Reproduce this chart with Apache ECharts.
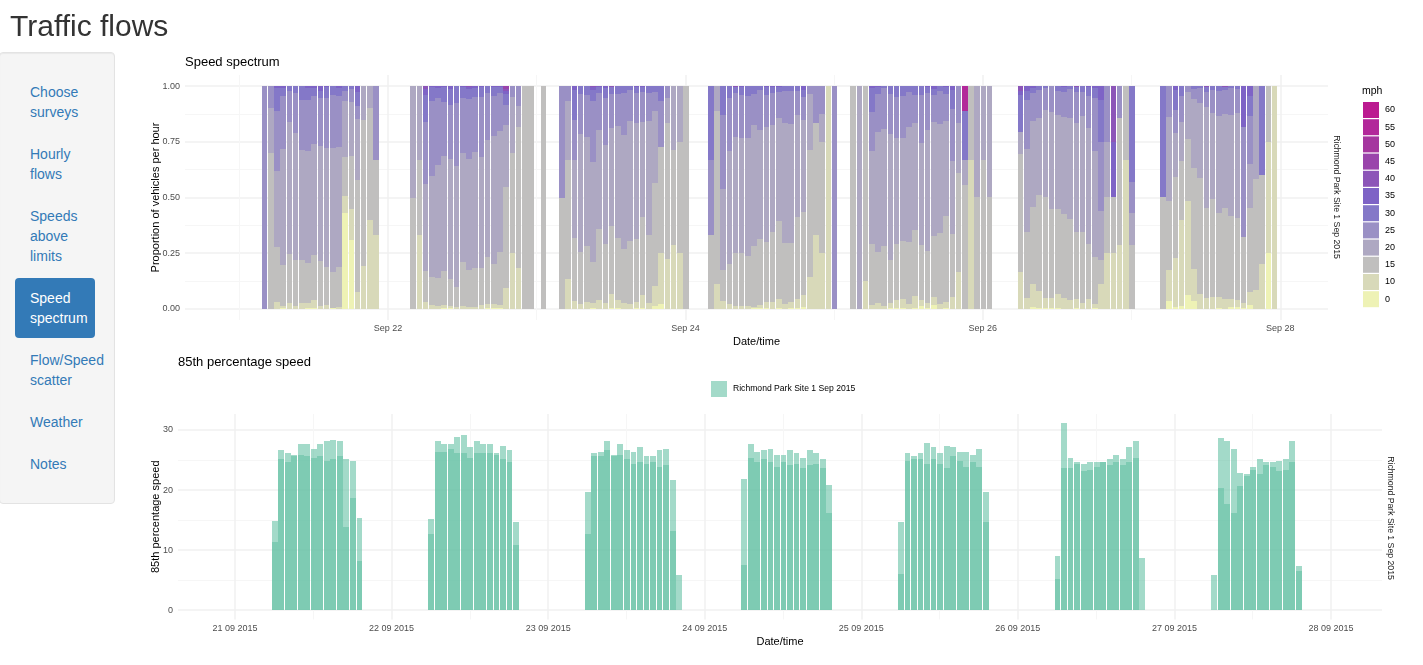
<!DOCTYPE html>
<html>
<head>
<meta charset="utf-8">
<title>Traffic flows</title>
<script src="https://cdn.jsdelivr.net/npm/echarts@6/dist/echarts.min.js"></script>
<style>
  html, body { margin: 0; height: 100%; background: #fff; overflow: hidden; font-family: "Liberation Sans", sans-serif; color: #333; }
  #chart { position: absolute; left: 0; top: 0; width: 100%; height: 100%; }
  h1 { position: absolute; left: 10px; top: 9px; margin: 0; font-size: 30px; line-height: 33px; font-weight: 500; }
  .well { position: absolute; left: -1px; top: 52px; width: 114px; height: 450px; background: #f5f5f5; border: 1px solid #e3e3e3; border-radius: 4px; box-shadow: inset 0 1px 1px rgba(0,0,0,.05); }
  .nav { list-style: none; margin: 0; padding: 0; position: absolute; left: 15px; top: 72px; width: 80px; font-size: 14px; line-height: 20px; }
  .nav li { margin-bottom: 2px; }
  .nav a { display: block; padding: 10px 15px; color: #337ab7; text-decoration: none; border-radius: 4px; white-space: nowrap; }
  .nav li.active a { background: #337ab7; color: #fff; }
</style>
</head>
<body>
<div id="chart"></div>
<h1>Traffic flows</h1>
<div class="well"></div>
<ul class="nav">
  <li><a href="#">Choose<br>surveys</a></li>
  <li><a href="#">Hourly<br>flows</a></li>
  <li><a href="#">Speeds<br>above<br>limits</a></li>
  <li class="active"><a href="#">Speed<br>spectrum</a></li>
  <li><a href="#">Flow/Speed<br>scatter</a></li>
  <li><a href="#">Weather</a></li>
  <li><a href="#">Notes</a></li>
</ul>
<script>
const siteName = "Richmond Park Site 1 Sep 2015";

// speed bands, slowest first
const bands = ["0", "10", "15", "20", "25", "30", "35", "40", "45", "50", "55", "60"];
const bandColors = ["#eef2b5", "#d8d9b9", "#c0bfbe", "#aea8c2", "#9a90c5", "#8478c8", "#7e63c6", "#8c55b8", "#9a44ab", "#a5369f", "#b2289a", "#bb1a90"];

// hours since 21 Sep 00:00, one row in the matching Tops list per hour
const sep21Hours = [4, 5, 6, 7, 8, 9, 10, 11, 12, 13, 14, 15, 16, 17, 18, 19, 20, 21, 22];
const sep22Hours = [28, 29, 30, 31, 32, 33, 34, 35, 36, 37, 38, 39, 40, 41, 42, 43, 44, 45, 46, 47, 49];
const sep23Hours = [52, 53, 54, 55, 56, 57, 58, 59, 60, 61, 62, 63, 64, 65, 66, 67, 68, 69, 70, 71, 72];
const sep24Hours = [76, 77, 78, 79, 80, 81, 82, 83, 84, 85, 86, 87, 88, 89, 90, 91, 92, 93, 94, 95, 96];
const sep25Hours = [99, 100, 101, 102, 103, 104, 105, 106, 107, 108, 109, 110, 111, 112, 113, 114, 115, 116, 117, 118, 119, 120, 121];
const sep26Hours = [126, 127, 128, 129, 130, 131, 132, 133, 134, 135, 136, 137, 138, 139, 140, 141, 142, 143, 144];
const sep27Hours = [149, 150, 151, 152, 153, 154, 155, 156, 157, 158, 159, 160, 161, 162, 163, 164, 165, 166, 167];

// cumulative share at the top of each band, a row stops once the next band reaches 1
const sep21Tops = [
  [0, 0, 0, 0],
  [0, 0, .70, .90],
  [0, .03, .28, .62, .89, .99],
  [.005, .013, .197, .72, .955, .99],
  [0, .027, .247, .84, .977],
  [0, .013, .22, .79, .97],
  [0, .027, .22, .713, .94],
  [.005, .027, .206, .708, .94, .99],
  [.005, .04, .242, .74, .955, .99],
  [0, .013, .215, .73, .946, .98],
  [0, .018, .188, .722, .946, .995],
  [.002, .005, .166, .722, .96],
  [0, .009, .188, .726, .955, .99],
  [.43, .507, .68, .933, .98],
  [.31, .448, .686, .928, .987],
  [0, .076, .578, .852, .91, .973],
  [0, .193, .848],
  [0, .40, .90],
  [0, .332, .668, .668]
];
const sep22Tops = [
  [0, 0, .50],
  [0, .33, .668],
  [0, .03, .17, .56, .84, .96, .987],
  [0, .018, .143, .596, .933, .995],
  [0, .013, .139, .646, .946, .99],
  [.005, .018, .17, .686, .928, .995],
  [.002, .013, .135, .673, .915, .987],
  [0, .009, .099, .641, .924],
  [0, .013, .21, .70, .946, .995],
  [0, .009, .175, .673, .942, .987, .995],
  [0, .009, .184, .704, .95, .99],
  [0, .018, .184, .68, .95, .995],
  [.005, .022, .233, .758, .97],
  [.005, .022, .20, .776, .955, .995],
  [.005, .018, .256, .80, .97, .995],
  [0, .094, .547, .825, .915, .964, .978, .987],
  [0, .25, .70, .95],
  [0, .184, .816, .91],
  [0, 0],
  [0, 0],
  [0, 0]
];
const sep23Tops = [
  [0, 0, .50, .50],
  [0, .135, .668, .933],
  [0, .036, .318, .668, .848, .982],
  [0, .022, .256, .785, .964],
  [0, .03, .283, .771, .96],
  [.005, .027, .21, .66, .933, .982, .995],
  [0, .04, .359, .803, .969, .995],
  [0, .027, .29, .735, .946, .99],
  [.002, .067, .372, .812, .964, .995, .995],
  [.003, .04, .318, .82, .964],
  [0, .027, .27, .78, .969],
  [0, .022, .305, .843, .982],
  [.002, .03, .314, .834, .969, .995],
  [.003, .063, .413, .839, .973, .995],
  [0, .027, .332, .843, .969],
  [.013, .103, .565, .888, .973],
  [.022, .251, .726, .726, .933],
  [0, .224, .834, .946],
  [0, .287, .713],
  [0, .251, .749],
  [0, 0]
];
const sep24Tops = [
  [0, 0, .332, .332, .668],
  [0, .112, .888],
  [0, .036, .175, .538, .87],
  [0, .022, .202, .709, .946],
  [0, .013, .251, .771, .969, .995, .995],
  [0, .013, .251, .767, .96, .995],
  [0, .013, .238, .767, .955],
  [.002, .009, .283, .825, .964],
  [.002, .018, .314, .803, .982],
  [.003, .03, .30, .816, .96, .995],
  [0, .03, .345, .825, .969, .995],
  [.005, .045, .395, .857, .973, .995],
  [0, .022, .296, .834, .978],
  [.003, .03, .296, .83, .978],
  [.005, .045, .413, .87, .978],
  [.008, .063, .435, .848, .95, .982],
  [0, .143, .713, .964],
  [0, .332, .834, .834],
  [0, .251, .749, .875],
  [0],
  [0, 0, 0, 0]
];
const sep25Tops = [
  [0, 0],
  [0, 0, 0],
  [0, .126],
  [0, .018, .291, .709, .883, .991],
  [0, .027, .256, .794, .964, .995],
  [0, .013, .283, .807, .991],
  [.003, .027, .22, .785, .964],
  [.003, .04, .291, .767, .951],
  [.003, .045, .305, .767, .955],
  [0, .022, .30, .816, .973],
  [.006, .058, .354, .834, .96],
  [.012, .04, .287, .744, .96],
  [.006, .027, .26, .803, .969, .995],
  [.016, .054, .327, .839, .96, .987],
  [0, .022, .341, .83, .978],
  [.004, .03, .417, .843, .964, .995],
  [0, .054, .336, .664, .897, .982],
  [0, .166, .61, .834],
  [0, 0, .556, .668, .668, .888, .888, .888, .888, .888],
  [0, .668],
  [0, 0, .502],
  [0, 0, .668],
  [0, 0, .502]
];
const sep26Tops = [
  [0, .166, .695, .794, .794, .96, .978],
  [0, .049, .345, .717, .937, .978],
  [.009, .112, .457, .843, .969, .991],
  [.003, .081, .511, .857, .982],
  [.002, .049, .502, .892, .991],
  [.002, .049, .448, .883],
  [.005, .067, .448, .87, .978],
  [0, .049, .426, .861, .973, .995],
  [0, .04, .404, .857, .987],
  [.002, .045, .345, .834, .973, .995, .995],
  [0, .027, .345, .865, .973],
  [0, .045, .291, .812, .955, .995],
  [.003, .022, .233, .709, .946, .99],
  [0, .112, .22, .44, .749, .937],
  [0, .251, .502, .749],
  [0, .251, .502, .502, .502, .502, .749],
  [0, .287, .857, .857],
  [0, .668],
  [0, 0, .287, .43, .57]
];
const sep27Tops = [
  [0, 0, .502, .502, .502],
  [.036, .175, .484, .861],
  [.009, .229, .592, .789, .892, .982],
  [.012, .399, .664, .839, .955],
  [.063, .484, .762, .973],
  [.036, .179, .632, .942, .987],
  [0, .067, .587, .924, .99],
  [0, .049, .453, .906, .973, .995, .995],
  [0, .054, .493, .879, .982],
  [.004, .054, .43, .865, .978],
  [0, .045, .453, .874, .982, .995, .995],
  [.008, .045, .417, .87, .991],
  [.008, .04, .408, .879, .987],
  [.002, .027, .323, .323, .816, .816],
  [.018, .076, .453, .65, .865, .955],
  [0, .085, .583],
  [0, .202, .60, .60, .60],
  [.251, .749],
  [0]
];

// hourly 85th percentile speed, higher and lower of the two directions
const speedHours = [
  6, 7, 8, 9, 10, 11, 12, 13, 14, 15, 16, 17, 18, 19,
  30, 31, 32, 33, 34, 35, 36, 37, 38, 39, 40, 41, 42, 43,
  54, 55, 56, 57, 58, 59, 60, 61, 62, 63, 64, 65, 66, 67, 68,
  78, 79, 80, 81, 82, 83, 84, 85, 86, 87, 88, 89, 90, 91,
  102, 103, 104, 105, 106, 107, 108, 109, 110, 111, 112, 113, 114, 115,
  126, 127, 128, 129, 130, 131, 132, 133, 134, 135, 136, 137, 138, 139,
  150, 151, 152, 153, 154, 155, 156, 157, 158, 159, 160, 161, 162, 163
];
const speedHigher = [
  14.9, 26.7, 26.1, 25.9, 27.7, 27.7, 26.9, 27.6, 28.2, 28.4, 28.2, 25.2, 24.9, 15.4,
  15.2, 28.2, 27.6, 27.7, 28.9, 29.1, 27.2, 28.2, 27.6, 27.6, 26.1, 27.4, 26.7, 14.6,
  19.6, 26.1, 26.4, 28.1, 25.9, 27.6, 26.7, 26.4, 27.1, 25.7, 25.6, 26.6, 26.9, 21.6, 5.9,
  21.9, 27.6, 26.4, 26.6, 26.9, 25.9, 25.9, 26.6, 26.1, 25.4, 26.7, 26.1, 25.2, 20.9,
  14.6, 26.2, 25.6, 26.2, 27.9, 27.2, 26.1, 27.4, 27.2, 26.4, 26.4, 25.9, 26.9, 19.6,
  9.1, 31.1, 25.4, 24.6, 24.4, 24.6, 24.7, 24.6, 25.2, 25.9, 25.1, 27.2, 28.2, 8.7,
  5.9, 28.7, 28.2, 26.9, 22.9, 22.7, 23.9, 25.1, 24.7, 24.7, 24.9, 25.2, 28.2, 7.4
];
const speedLower = [
  11.4, 25.2, 24.6, 25.6, 25.9, 25.7, 25.4, 25.6, 24.9, 25.1, 25.6, 13.9, 18.7, 8.2,
  12.7, 26.4, 26.4, 26.9, 26.2, 26.2, 25.4, 26.1, 26.2, 26.2, 25.9, 25.1, 24.7, 10.9,
  12.6, 25.6, 25.7, 26.6, 25.6, 25.9, 25.1, 24.4, 24.7, 24.4, 24.6, 23.9, 24.1, 13.2, null,
  7.6, 25.4, 24.6, 25.2, 24.7, 23.9, 24.7, 24.2, 24.4, 23.6, 24.1, 24.4, 23.6, 16.1,
  6.1, 24.9, 25.2, 25.2, 24.4, 25.2, 24.4, 23.6, 25.7, 24.9, 23.9, 24.6, 23.9, 14.7,
  5.2, 23.7, 23.7, 24.4, 23.2, 23.4, 23.9, 24.6, 24.1, 24.6, 24.2, 24.6, 25.4, null,
  null, 20.4, 17.7, 16.2, 20.7, 22.4, 23.4, 22.6, 24.2, 23.9, 23.2, 23.4, 24.6, 6.6
];

// axis ticks, in hours since 21 Sep 00:00
const spectrumTicks = [24, 72, 120, 168];
const spectrumTickLabels = ["Sep 22", "Sep 24", "Sep 26", "Sep 28"];
const spectrumMinorTicks = [0, 48, 96, 144];
const speedTicks = [0, 24, 48, 72, 96, 120, 144, 168];
const speedTickLabels = ["21 09 2015", "22 09 2015", "23 09 2015", "24 09 2015", "25 09 2015", "26 09 2015", "27 09 2015", "28 09 2015"];
const speedMinorTicks = [12, 36, 60, 84, 108, 132, 156];

const font = "Liberation Sans";
const speedColor = "rgba(102,194,165,0.6)";

const spectrumHours = [].concat(sep21Hours, sep22Hours, sep23Hours, sep24Hours, sep25Hours, sep26Hours, sep27Hours);
const spectrumTops = [].concat(sep21Tops, sep22Tops, sep23Tops, sep24Tops, sep25Tops, sep26Tops, sep27Tops);

// hourly bars snapped to whole pixels, the png they come from has no soft edges
const hourBar = (params, api) => {
  const hour = api.value(0);
  const [cx, yLow] = api.coord([hour, api.value(1)]);
  const [, yHigh] = api.coord([hour, api.value(2)]);
  const half = api.size([0.9, 0])[0] / 2;
  const left = Math.round(cx - half + 0.5);
  const right = Math.round(cx + half + 0.5);
  const top = Math.round(yHigh);
  const bottom = Math.round(yLow);
  if (bottom <= top) return null;
  return {
    type: "rect",
    shape: { x: left, y: top, width: right - left, height: bottom - top },
    style: { fill: api.visual("color") }
  };
};

const bandTop = (row, band) => (band < row.length ? row[band] : 1);

const spectrumSeries = bands.map((name, band) => ({
  type: "custom",
  name,
  xAxisIndex: 0,
  yAxisIndex: 0,
  silent: true,
  renderItem: hourBar,
  itemStyle: { color: bandColors[band] },
  encode: { x: 0, y: [1, 2] },
  data: spectrumHours.map((h, i) => [h, band ? bandTop(spectrumTops[i], band - 1) : 0, bandTop(spectrumTops[i], band)])
}));

const speedSeries = [speedHigher, speedLower].map((values) => ({
  type: "custom",
  name: siteName,
  xAxisIndex: 2,
  yAxisIndex: 2,
  silent: true,
  renderItem: hourBar,
  itemStyle: { color: speedColor },
  encode: { x: 0, y: [1, 2] },
  data: speedHours.map((h, i) => [h, 0, values[i] === null ? 0 : values[i]])
}));

const lineAxis = (extra) => Object.assign({
  type: "value",
  nameMoveOverlap: false,
  axisLine: { show: false },
  axisTick: { show: false },
  splitArea: { show: false },
  nameTextStyle: { fontFamily: font, fontSize: 11, color: "#000" }
}, extra);

const major = { show: true, lineStyle: { color: "#f0f0f0", width: 1.5 } };
const minor = { show: true, lineStyle: { color: "#f6f6f6", width: 1 } };
const tickText = { fontFamily: font, fontSize: 9, color: "#4d4d4d" };

const topX = { min: -8.76, max: 175.7 };
const topY = { min: -0.05, max: 1.05 };
const lowX = { min: -8.74, max: 175.82 };
const lowY = { min: -1.555, max: 32.66 };

const options = {
  animation: false,
  textStyle: { fontFamily: font },
  title: [
    { text: "Speed spectrum", left: 185, top: 56, padding: 0, textStyle: { fontFamily: font, fontSize: 13, fontWeight: "normal", color: "#000" } },
    { text: "85th percentage speed", left: 178, top: 356, padding: 0, textStyle: { fontFamily: font, fontSize: 13, fontWeight: "normal", color: "#000" } },
    { text: "mph", left: 1362, top: 86, padding: 0, textStyle: { fontFamily: font, fontSize: 10.5, fontWeight: "normal", color: "#000" } }
  ],
  legend: [
    {
      data: bands.slice().reverse(),
      orient: "vertical",
      left: 1363,
      top: 102,
      padding: 0,
      itemWidth: 16,
      itemHeight: 16,
      itemGap: 1.2,
      icon: "rect",
      selectedMode: false,
      textStyle: { fontFamily: font, fontSize: 9, color: "#000", padding: [1, 0, 0, 1] }
    },
    {
      data: [siteName],
      left: 711,
      top: 381,
      padding: 0,
      itemWidth: 16,
      itemHeight: 16,
      icon: "rect",
      selectedMode: false,
      textStyle: { fontFamily: font, fontSize: 8.6, color: "#000", padding: [0, 0, 0, 1] }
    }
  ],
  grid: [
    { left: 185, right: 95, top: 75, bottom: 345 },
    { left: 178, right: 41, top: 414, bottom: 45.5 }
  ],
  xAxis: [
    lineAxis(Object.assign({
      gridIndex: 0, name: "Date/time", nameLocation: "middle", nameGap: 16,
      axisTick: { show: false, customValues: spectrumTicks },
      axisLabel: Object.assign({ customValues: spectrumTicks, margin: 4, formatter: (v) => spectrumTickLabels[spectrumTicks.indexOf(v)] }, tickText),
      splitLine: major
    }, topX)),
    lineAxis(Object.assign({
      gridIndex: 0,
      axisTick: { show: false, customValues: spectrumMinorTicks },
      axisLabel: { show: false },
      splitLine: minor
    }, topX)),
    lineAxis(Object.assign({
      gridIndex: 1, name: "Date/time", nameLocation: "middle", nameGap: 17,
      axisTick: { show: false, customValues: speedTicks },
      axisLabel: Object.assign({ customValues: speedTicks, margin: 5, formatter: (v) => speedTickLabels[speedTicks.indexOf(v)] }, tickText),
      splitLine: major
    }, lowX)),
    lineAxis(Object.assign({
      gridIndex: 1,
      axisTick: { show: false, customValues: speedMinorTicks },
      axisLabel: { show: false },
      splitLine: minor
    }, lowX))
  ],
  yAxis: [
    lineAxis(Object.assign({
      gridIndex: 0, name: "Proportion of vehicles per hour", nameLocation: "middle", nameGap: 24,
      axisTick: { show: false, customValues: [0, .25, .5, .75, 1] },
      axisLabel: Object.assign({ customValues: [0, .25, .5, .75, 1], margin: 5, formatter: (v) => v.toFixed(2) }, tickText),
      splitLine: major
    }, topY)),
    lineAxis(Object.assign({
      gridIndex: 0,
      axisTick: { show: false, customValues: [.125, .375, .625, .875] },
      axisLabel: { show: false },
      splitLine: minor
    }, topY)),
    lineAxis(Object.assign({
      gridIndex: 1, name: "85th percentage speed", nameLocation: "middle", nameGap: 17,
      axisTick: { show: false, customValues: [0, 10, 20, 30] },
      axisLabel: Object.assign({ customValues: [0, 10, 20, 30], margin: 5 }, tickText),
      splitLine: major
    }, lowY)),
    lineAxis(Object.assign({
      gridIndex: 1,
      axisTick: { show: false, customValues: [5, 15, 25] },
      axisLabel: { show: false },
      splitLine: minor
    }, lowY))
  ],
  graphic: [
    { type: "text", x: 1336, y: 197, rotation: -Math.PI / 2, style: { text: siteName, fontFamily: font, fontSize: 8.7, fill: "#1a1a1a", align: "center", verticalAlign: "middle" } },
    { type: "text", x: 1390, y: 518, rotation: -Math.PI / 2, style: { text: siteName, fontFamily: font, fontSize: 8.7, fill: "#1a1a1a", align: "center", verticalAlign: "middle" } }
  ],
  series: spectrumSeries.concat(speedSeries)
};

const chart = echarts.init(document.getElementById("chart"));
chart.setOption(options);
window.addEventListener("resize", () => chart.resize());
</script>
</body>
</html>
